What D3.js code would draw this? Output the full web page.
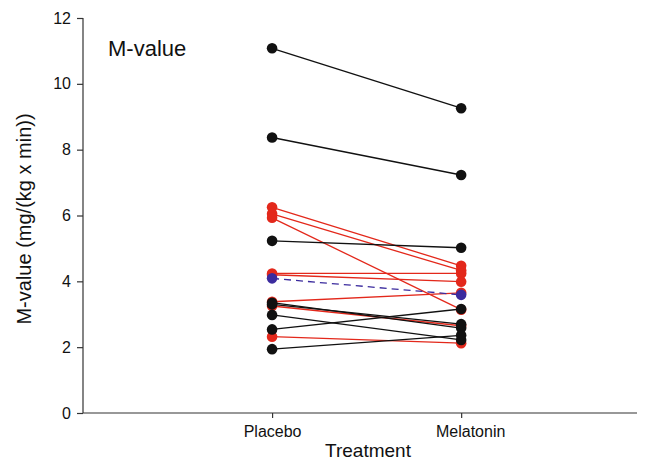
<!DOCTYPE html>
<html>
<head>
<meta charset="utf-8">
<script src="https://cdn.jsdelivr.net/npm/d3@7"></script>
<style>
  body { margin: 0; background: #fff; }
  text { font-family: "Liberation Sans", Arial, sans-serif; fill: #111; }
</style>
</head>
<body>
<div id="chart"></div>
<script>
// tamaño de la figura
var width = 647, height = 462;

// datos: valor con placebo y con melatonina por sujeto
var treatments = ["Placebo", "Melatonin"];
var blackPlacebo   = [11.08, 8.37, 5.23, 3.35, 3.30, 2.98, 2.54, 1.94];
var blackMelatonin = [9.26, 7.23, 5.02, 2.58, 2.70, 2.22, 3.16, 2.36];
var redPlacebo     = [6.25, 6.05, 5.93, 4.24, 4.20, 3.38, 3.25, 2.32];
var redMelatonin   = [4.47, 4.33, 3.14, 4.24, 3.99, 3.65, 2.65, 2.12];
var bluePlacebo    = [4.09];
var blueMelatonin  = [3.59];
var yTicks = [0, 2, 4, 6, 8, 10, 12];

var svg = d3.select("#chart").append("svg")
  .attr("width", width)
  .attr("height", height);

// escalas
var x = d3.scaleLinear().domain([0, 2.93]).range([83, 637]);
var y = d3.scaleLinear().domain([0, 12]).range([413, 18]);

// ejes
var yAxis = svg.append("g")
  .attr("transform", "translate(83,0)")
  .call(d3.axisLeft(y).tickValues(yTicks).tickSize(6).tickPadding(6));
var xAxis = svg.append("g")
  .attr("transform", "translate(0,413)")
  .call(d3.axisBottom(x).tickValues([1, 2]).tickSize(5).tickPadding(8)
    .tickFormat(function(d) { return treatments[d - 1]; }));

[yAxis, xAxis].forEach(function(a) {
  a.select(".domain").attr("stroke", "#333").attr("stroke-width", 1.2);
  a.selectAll(".tick line").attr("stroke", "#333").attr("stroke-width", 1.2);
  a.selectAll(".tick text")
    .style("font-family", "'Liberation Sans', Arial, sans-serif")
    .style("font-size", "16px").attr("fill", "#111");
});
// la etiqueta de Melatonin está algo desplazada a la derecha en el original
xAxis.selectAll(".tick text").attr("dx", function(d) { return d === 2 ? 9 : 0; });
// quitar los ticks exteriores de los extremos
xAxis.select(".domain").attr("d", "M83,0H637");
yAxis.select(".domain").attr("d", "M0,18V413");

// títulos
svg.append("text")
  .attr("x", 368).attr("y", 457)
  .attr("text-anchor", "middle")
  .style("font-size", "19px")
  .text("Treatment");
svg.append("text")
  .attr("transform", "translate(31,219) rotate(-90)")
  .attr("text-anchor", "middle")
  .style("font-size", "20px")
  .text("M-value (mg/(kg x min))");
svg.append("text")
  .attr("x", 108).attr("y", 56)
  .style("font-size", "22px")
  .text("M-value");

// dibujar un grupo de sujetos
function drawGroup(pre, post, color, dash) {
  var pairs = pre.map(function(v, i) { return [v, post[i]]; });
  var g = svg.append("g");
  g.selectAll("line")
    .data(pairs)
    .enter()
    .append("line")
    .attr("x1", x(1)).attr("x2", x(2))
    .attr("y1", function(d) { return y(d[0]); })
    .attr("y2", function(d) { return y(d[1]); })
    .attr("stroke", color)
    .attr("stroke-width", 1.3)
    .attr("stroke-dasharray", dash);
  g.selectAll("circle.pre")
    .data(pairs)
    .enter()
    .append("circle")
    .attr("cx", x(1))
    .attr("cy", function(d) { return y(d[0]); })
    .attr("r", 5.3)
    .attr("fill", color);
  g.selectAll("circle.post")
    .data(pairs)
    .enter()
    .append("circle")
    .attr("cx", x(2))
    .attr("cy", function(d) { return y(d[1]); })
    .attr("r", 5.3)
    .attr("fill", color);
}

drawGroup(redPlacebo, redMelatonin, "#e3281b", null);
drawGroup(blackPlacebo, blackMelatonin, "#111111", null);
drawGroup(bluePlacebo, blueMelatonin, "#3b2b9e", "7,5");
</script>
</body>
</html>
